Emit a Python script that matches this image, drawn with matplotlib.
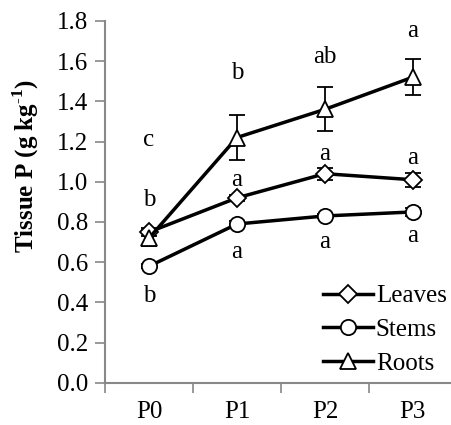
import matplotlib
matplotlib.use('Agg')
import matplotlib.pyplot as plt
import numpy as np

plt.rcParams['font.family'] = ['Liberation Serif', 'DejaVu Serif']
plt.rcParams['mathtext.fontset'] = 'custom'
plt.rcParams['mathtext.rm'] = 'Liberation Serif'
plt.rcParams['mathtext.bf'] = 'Liberation Serif:bold'

# data
categories = ['P0', 'P1', 'P2', 'P3']
leaves = [0.75, 0.92, 1.04, 1.01]
leaves_err = [0.02, 0.015, 0.03, 0.035]
stems = [0.58, 0.79, 0.83, 0.85]
stems_err = [0.01, 0.015, 0.01, 0.02]
roots = [0.72, 1.22, 1.36, 1.52]
roots_err = [0.04, 0.11, 0.11, 0.09]

# significance letters (text, y position)
roots_letters = ['c', 'b', 'ab', 'a']
roots_letter_y = [1.21, 1.54, 1.62, 1.75]
leaves_letters = ['b', 'a', 'a', 'a']
leaves_letter_y = [0.91, 1.01, 1.14, 1.12]
stems_letters = ['b', 'a', 'a', 'a']
stems_letter_y = [0.43, 0.65, 0.70, 0.73]

fig = plt.figure(figsize=(4.51, 4.25), dpi=100)
ax = fig.add_axes([0.233, 0.099, 0.78, 0.852])

x = np.arange(len(categories))
style = dict(color='black', lw=2.5, markersize=11, markerfacecolor='white',
             markeredgecolor='black', markeredgewidth=1.3,
             ecolor='black', elinewidth=1.3, capsize=6, capthick=1.3)
ax.errorbar(x, leaves, yerr=leaves_err, marker='D', label='Leaves', zorder=3,
            **{**style, 'markersize': 9})
ax.errorbar(x, stems, yerr=stems_err, marker='o', label='Stems', zorder=3, **style)
ax.errorbar(x, roots, yerr=roots_err, marker='^', label='Roots', zorder=3, **style)

for letters, ys in [(roots_letters, roots_letter_y),
                    (leaves_letters, leaves_letter_y),
                    (stems_letters, stems_letter_y)]:
    for xi, (t, yv) in enumerate(zip(letters, ys)):
        ax.text(xi, yv, t, ha='center', va='center', fontsize=18)

ax.set_xlim(-0.5, 3.5)
ax.set_ylim(0, 1.8)
ax.set_yticks(np.arange(0, 1.81, 0.2))
ax.set_yticklabels([f'{v:.1f}' for v in np.arange(0, 1.81, 0.2)])
ax.set_xticks(x)
ax.set_xticklabels(categories)
ax.set_xticks([-0.5, 0.5, 1.5, 2.5, 3.5], minor=True)
ax.tick_params(axis='x', which='major', length=0, pad=13, labelsize=18)
ax.tick_params(axis='x', which='minor', length=7, width=1.2, color='#888888', direction='out')
ax.tick_params(axis='y', length=7, width=1.2, color='#888888', direction='out', labelsize=18, pad=5)

for s in ['top', 'right']:
    ax.spines[s].set_visible(False)
for s in ['left', 'bottom']:
    ax.spines[s].set_color('#888888')
    ax.spines[s].set_linewidth(1.5)

fig.text(0.057, 0.61, r'Tissue P (g kg$^{\mathbf{\text{-}1}}$)', rotation=90,
         ha='center', va='center', fontsize=18, fontweight='bold')

handles, labels = ax.get_legend_handles_labels()
handles = [h[0] for h in handles]
ax.legend(handles, labels, loc='lower right', frameon=False, fontsize=18,
          handlelength=2.0, handletextpad=0.1, labelspacing=0.45,
          bbox_to_anchor=(1.035, -0.04))

fig.savefig('out.png', dpi=100)
